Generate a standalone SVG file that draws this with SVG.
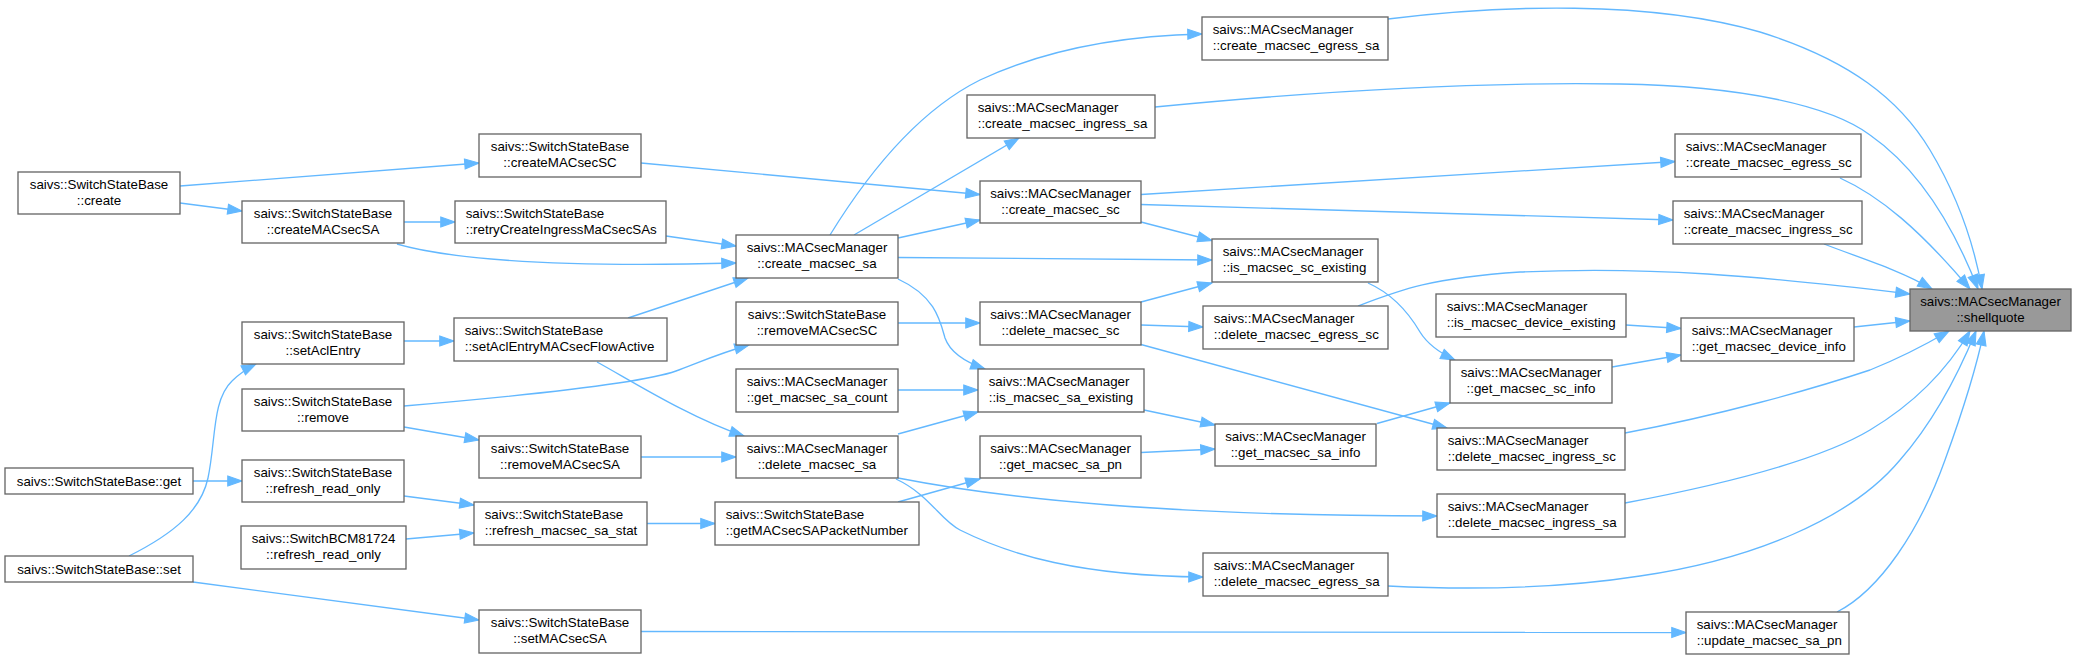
<svg xmlns="http://www.w3.org/2000/svg" width="2077" height="660" viewBox="0 0 2077 660">
<style>
.node rect{fill:#ffffff;stroke:#666666;stroke-width:1.33}
.node.hl rect{fill:#999999}
.node text{font-family:"Liberation Sans",Arial,Helvetica,sans-serif;font-size:13.33px;fill:#000000}
.c{text-anchor:middle}
.l{text-anchor:start}
.edges path{fill:none;stroke:#63b8ff;stroke-width:1.33;marker-end:url(#arr)}
</style>
<defs>
<marker id="arr" markerUnits="userSpaceOnUse" markerWidth="15" markerHeight="11" viewBox="0 0 14 10" refX="13.3" refY="4.67" orient="auto" overflow="visible">
<path d="M0,0 L13.3,4.67 L0,9.33 z" fill="#63b8ff" stroke="#63b8ff" stroke-width="1"/>
</marker>
</defs>
<rect width="2077" height="660" fill="#ffffff"/>
<g class="edges" id="edges">
<path d="M180,186 L479,163"/>
<path d="M180,203 L242,211"/>
<path d="M404,222 L455,222"/>
<path d="M397,244 C470,265 620,266 736,263"/>
<path d="M666,236 L736,246"/>
<path d="M641,163 L980,194.5"/>
<path d="M404,341 L454,341"/>
<path d="M628,318 L748,278"/>
<path d="M597,362 C630,380 690,418 744,436"/>
<path d="M404,406 C520,396 640,384 676,371 C700,362 720,353 749,345"/>
<path d="M404,427 L479,440"/>
<path d="M193,481 L242,481"/>
<path d="M129,556 C175,533 201,510 208,478 C216,440 212,400 232,381 C240,373 248,368 256,364"/>
<path d="M193,582 L479,620"/>
<path d="M404,496 L474,505"/>
<path d="M406,539 L474,533"/>
<path d="M647,523.5 L715,523.5"/>
<path d="M641,457 L736,457"/>
<path d="M898,323 L980,323"/>
<path d="M898,502 L980,479"/>
<path d="M830,235 C870,170 920,110 980,80 C1040,52 1110,36 1202,34"/>
<path d="M854,235 L1019,138"/>
<path d="M898,238 L980,220"/>
<path d="M898,257.5 L1212,260"/>
<path d="M898,279 C935,296 940,320 945,338 C950,352 965,362 985,369"/>
<path d="M898,390 L978,390"/>
<path d="M898,434 L978,412"/>
<path d="M898,478 C1010,500 1180,516 1437,516"/>
<path d="M896,479 C930,495 940,520 960,530 C1010,555 1080,576 1203,577"/>
<path d="M1141,194.5 L1675,161.5"/>
<path d="M1141,204.5 L1673,220"/>
<path d="M1141,222 L1212,240.5"/>
<path d="M1141,302 L1212,283"/>
<path d="M1141,325 L1203,327"/>
<path d="M1141,344.5 L1447,428"/>
<path d="M1144,410 L1215,425"/>
<path d="M1141,452.5 L1215,449"/>
<path d="M1377,423.5 L1450,403"/>
<path d="M1368,283 C1395,295 1410,315 1420,332 C1428,345 1440,353 1455,360"/>
<path d="M1626,325 L1681,328.5"/>
<path d="M1612,367 L1681,355"/>
<path d="M641,631.5 L1686,632.5"/>
<path d="M1388,19 C1500,5 1650,0 1760,32 C1850,60 1900,100 1930,150 C1960,200 1975,250 1982,289"/>
<path d="M1155,107 C1350,88 1500,82 1620,84 C1740,86 1830,105 1870,135 C1920,170 1955,230 1978,289"/>
<path d="M1840,178 C1880,196 1920,230 1970,289"/>
<path d="M1824,244 C1860,258 1900,270 1932,289"/>
<path d="M1358,306 C1400,290 1430,278 1520,272 C1650,266 1760,276 1910,294"/>
<path d="M1854,327 L1910,321"/>
<path d="M1625,433 C1720,415 1810,390 1870,370 C1900,358 1925,345 1949,331"/>
<path d="M1625,503 C1720,485 1820,460 1870,430 C1920,400 1950,365 1970,331"/>
<path d="M1388,586 C1450,589 1550,590 1640,576 C1750,560 1850,520 1900,460 C1935,420 1960,370 1976,331"/>
<path d="M1837,612 C1880,590 1920,530 1945,460 C1965,405 1978,360 1984,331"/>
</g>
<g class="node" id="n_create"><rect x="18" y="172" width="162" height="42"/><text class="c" x="99" y="189">saivs::SwitchStateBase</text><text class="c" x="99" y="205">::create</text></g>
<g class="node" id="n_createMACsecSA"><rect x="242" y="201" width="162" height="42"/><text class="c" x="323" y="218">saivs::SwitchStateBase</text><text class="c" x="323" y="234">::createMACsecSA</text></g>
<g class="node" id="n_createMACsecSC"><rect x="479" y="134" width="162" height="43"/><text class="c" x="560" y="151">saivs::SwitchStateBase</text><text class="c" x="560" y="167">::createMACsecSC</text></g>
<g class="node" id="n_retryCreateIngressMaCsecSAs"><rect x="455" y="201" width="211" height="42"/><text class="l" x="465.7" y="218">saivs::SwitchStateBase</text><text class="l" x="465.7" y="234">::retryCreateIngressMaCsecSAs</text></g>
<g class="node" id="n_setAclEntry"><rect x="242" y="322" width="162" height="42"/><text class="c" x="323" y="339">saivs::SwitchStateBase</text><text class="c" x="323" y="355">::setAclEntry</text></g>
<g class="node" id="n_setAclEntryMACsecFlowActive"><rect x="454" y="318" width="213" height="43"/><text class="l" x="464.7" y="335">saivs::SwitchStateBase</text><text class="l" x="464.7" y="351">::setAclEntryMACsecFlowActive</text></g>
<g class="node" id="n_remove"><rect x="242" y="389" width="162" height="42"/><text class="c" x="323" y="406">saivs::SwitchStateBase</text><text class="c" x="323" y="422">::remove</text></g>
<g class="node" id="n_removeMACsecSA"><rect x="479" y="436" width="162" height="42"/><text class="c" x="560" y="453">saivs::SwitchStateBase</text><text class="c" x="560" y="469">::removeMACsecSA</text></g>
<g class="node" id="n_get"><rect x="5" y="468" width="188" height="26"/><text class="c" x="99" y="485.5">saivs::SwitchStateBase::get</text></g>
<g class="node" id="n_refresh_read_only"><rect x="242" y="460" width="162" height="42"/><text class="c" x="323" y="477">saivs::SwitchStateBase</text><text class="c" x="323" y="493">::refresh_read_only</text></g>
<g class="node" id="n_refresh_macsec_sa_stat"><rect x="474" y="502" width="173" height="43"/><text class="l" x="484.7" y="519">saivs::SwitchStateBase</text><text class="l" x="484.7" y="535">::refresh_macsec_sa_stat</text></g>
<g class="node" id="n_bcm_refresh_read_only"><rect x="241" y="526" width="165" height="43"/><text class="c" x="323.5" y="543">saivs::SwitchBCM81724</text><text class="c" x="323.5" y="559">::refresh_read_only</text></g>
<g class="node" id="n_set"><rect x="5" y="556" width="188" height="26"/><text class="c" x="99" y="573.5">saivs::SwitchStateBase::set</text></g>
<g class="node" id="n_setMACsecSA"><rect x="479" y="610" width="162" height="43"/><text class="c" x="560" y="627">saivs::SwitchStateBase</text><text class="c" x="560" y="643">::setMACsecSA</text></g>
<g class="node" id="n_create_macsec_sa"><rect x="736" y="235" width="162" height="43"/><text class="c" x="817" y="252">saivs::MACsecManager</text><text class="c" x="817" y="268">::create_macsec_sa</text></g>
<g class="node" id="n_create_macsec_ingress_sa"><rect x="967" y="95" width="188" height="43"/><text class="l" x="977.7" y="112">saivs::MACsecManager</text><text class="l" x="977.7" y="128">::create_macsec_ingress_sa</text></g>
<g class="node" id="n_create_macsec_sc"><rect x="980" y="181" width="161" height="42"/><text class="c" x="1060.5" y="198">saivs::MACsecManager</text><text class="c" x="1060.5" y="214">::create_macsec_sc</text></g>
<g class="node" id="n_removeMACsecSC"><rect x="736" y="302" width="162" height="43"/><text class="c" x="817" y="319">saivs::SwitchStateBase</text><text class="c" x="817" y="335">::removeMACsecSC</text></g>
<g class="node" id="n_delete_macsec_sc"><rect x="980" y="302" width="161" height="43"/><text class="c" x="1060.5" y="319">saivs::MACsecManager</text><text class="c" x="1060.5" y="335">::delete_macsec_sc</text></g>
<g class="node" id="n_get_macsec_sa_count"><rect x="736" y="369" width="162" height="43"/><text class="l" x="746.7" y="386">saivs::MACsecManager</text><text class="l" x="746.7" y="402">::get_macsec_sa_count</text></g>
<g class="node" id="n_is_macsec_sa_existing"><rect x="978" y="369" width="166" height="43"/><text class="l" x="988.7" y="386">saivs::MACsecManager</text><text class="l" x="988.7" y="402">::is_macsec_sa_existing</text></g>
<g class="node" id="n_delete_macsec_sa"><rect x="736" y="436" width="162" height="42"/><text class="c" x="817" y="453">saivs::MACsecManager</text><text class="c" x="817" y="469">::delete_macsec_sa</text></g>
<g class="node" id="n_get_macsec_sa_pn"><rect x="980" y="436" width="161" height="42"/><text class="c" x="1060.5" y="453">saivs::MACsecManager</text><text class="c" x="1060.5" y="469">::get_macsec_sa_pn</text></g>
<g class="node" id="n_getMACsecSAPacketNumber"><rect x="715" y="502" width="204" height="43"/><text class="l" x="725.7" y="519">saivs::SwitchStateBase</text><text class="l" x="725.7" y="535">::getMACsecSAPacketNumber</text></g>
<g class="node" id="n_create_macsec_egress_sa"><rect x="1202" y="17" width="186" height="43"/><text class="l" x="1212.7" y="34">saivs::MACsecManager</text><text class="l" x="1212.7" y="50">::create_macsec_egress_sa</text></g>
<g class="node" id="n_is_macsec_sc_existing"><rect x="1212" y="239" width="166" height="43"/><text class="l" x="1222.7" y="256">saivs::MACsecManager</text><text class="l" x="1222.7" y="272">::is_macsec_sc_existing</text></g>
<g class="node" id="n_delete_macsec_egress_sc"><rect x="1203" y="306" width="185" height="43"/><text class="l" x="1213.7" y="323">saivs::MACsecManager</text><text class="l" x="1213.7" y="339">::delete_macsec_egress_sc</text></g>
<g class="node" id="n_is_macsec_device_existing"><rect x="1436" y="294" width="190" height="43"/><text class="l" x="1446.7" y="311">saivs::MACsecManager</text><text class="l" x="1446.7" y="327">::is_macsec_device_existing</text></g>
<g class="node" id="n_get_macsec_sc_info"><rect x="1450" y="360" width="162" height="43"/><text class="c" x="1531" y="377">saivs::MACsecManager</text><text class="c" x="1531" y="393">::get_macsec_sc_info</text></g>
<g class="node" id="n_delete_macsec_ingress_sc"><rect x="1437" y="428" width="188" height="42"/><text class="l" x="1447.7" y="445">saivs::MACsecManager</text><text class="l" x="1447.7" y="461">::delete_macsec_ingress_sc</text></g>
<g class="node" id="n_get_macsec_sa_info"><rect x="1215" y="424" width="161" height="42"/><text class="c" x="1295.5" y="441">saivs::MACsecManager</text><text class="c" x="1295.5" y="457">::get_macsec_sa_info</text></g>
<g class="node" id="n_delete_macsec_ingress_sa"><rect x="1437" y="494" width="188" height="43"/><text class="l" x="1447.7" y="511">saivs::MACsecManager</text><text class="l" x="1447.7" y="527">::delete_macsec_ingress_sa</text></g>
<g class="node" id="n_delete_macsec_egress_sa"><rect x="1203" y="553" width="185" height="43"/><text class="l" x="1213.7" y="570">saivs::MACsecManager</text><text class="l" x="1213.7" y="586">::delete_macsec_egress_sa</text></g>
<g class="node" id="n_create_macsec_egress_sc"><rect x="1675" y="134" width="186" height="43"/><text class="l" x="1685.7" y="151">saivs::MACsecManager</text><text class="l" x="1685.7" y="167">::create_macsec_egress_sc</text></g>
<g class="node" id="n_create_macsec_ingress_sc"><rect x="1673" y="201" width="189" height="43"/><text class="l" x="1683.7" y="218">saivs::MACsecManager</text><text class="l" x="1683.7" y="234">::create_macsec_ingress_sc</text></g>
<g class="node hl" id="n_shellquote"><rect x="1910" y="289" width="161" height="42"/><text class="c" x="1990.5" y="306">saivs::MACsecManager</text><text class="c" x="1990.5" y="322">::shellquote</text></g>
<g class="node" id="n_get_macsec_device_info"><rect x="1681" y="318" width="173" height="43"/><text class="l" x="1691.7" y="335">saivs::MACsecManager</text><text class="l" x="1691.7" y="351">::get_macsec_device_info</text></g>
<g class="node" id="n_update_macsec_sa_pn"><rect x="1686" y="612" width="163" height="42"/><text class="l" x="1696.7" y="629">saivs::MACsecManager</text><text class="l" x="1696.7" y="645">::update_macsec_sa_pn</text></g>
</svg>
